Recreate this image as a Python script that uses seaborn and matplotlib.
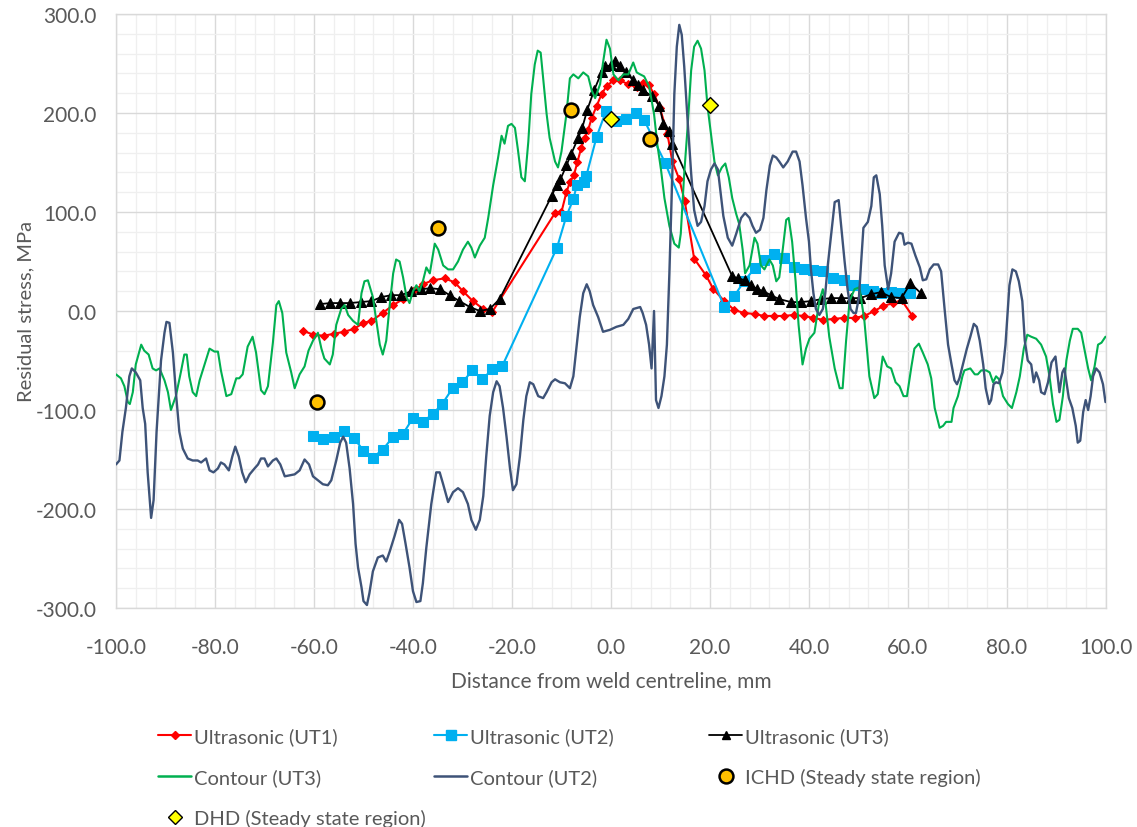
import matplotlib
matplotlib.use('Agg')
import matplotlib.pyplot as plt
from matplotlib.ticker import MultipleLocator, FormatStrFormatter
from matplotlib.lines import Line2D
import seaborn as sns

# ---- Ultrasonic measurements ----
ut1_x = [-62.2, -60.1, -58.0, -56.0, -53.9, -51.9, -50.0, -48.4, -46.1, -44.0,
         -42.0, -40.0, -38.0, -36.0, -33.6, -31.6, -29.9, -27.9, -25.8, -24.0,
         -11.3, -10.0, -9.0, -8.3, -7.5, -6.8, -6.0, -5.3, -4.6, -3.9,
         -2.9, -1.9, -0.9, 0.5, 1.8, 3.5, 5.2, 6.4, 7.7, 8.7,
         9.9, 11.4, 12.4, 13.8, 14.9, 16.8, 19.2, 20.7, 22.9, 24.9,
         26.9, 29.0, 30.9, 32.9, 34.9, 36.9, 38.9, 40.9, 42.9, 45.0,
         47.0, 49.2, 51.2, 53.2, 55.0, 57.0, 58.7, 60.9]
ut1_y = [-20, -24, -25, -23, -21, -18, -12, -10, -2, 6,
         12, 20, 27, 31, 33, 29, 20, 10, 2, -1,
         99, 100, 120, 130, 137, 150, 165, 175, 183, 195,
         207, 219, 227, 233, 233, 229, 226, 230, 228, 219,
         205, 179, 151, 133, 111, 53, 36, 22, 10, 1,
         -2, -3, -5, -5, -5, -4, -5, -7, -9, -8,
         -7, -7, -5, 0, 5, 8, 11, -5]

ut2_x = [-60.1, -58.1, -56.0, -54.0, -52.0, -50.0, -48.1, -46.1, -44.0, -42.0,
         -40.0, -38.0, -36.0, -34.1, -32.0, -30.0, -28.0, -26.0, -24.0, -22.0,
         -10.9, -9.0, -7.6, -6.9, -5.5, -5.0, -2.9, -1.0, 1.0, 3.0,
         5.0, 6.7, 11.0, 22.9, 24.9, 26.9, 29.0, 31.0, 33.0, 34.9,
         36.9, 38.9, 40.9, 42.8, 44.8, 47.0, 48.9, 50.9, 52.9, 54.6,
         56.5, 58.5, 60.5]
ut2_y = [-126, -129, -127, -121, -128, -141, -148, -140, -127, -124,
         -108, -112, -104, -94, -78, -72, -60, -69, -59, -56,
         64, 96, 113, 127, 130, 136, 176, 202, 192, 194,
         200, 193, 149, 4, 15, 30, 43, 52, 58, 54,
         44, 42, 41, 40, 33, 31, 26, 22, 20, 18,
         19, 18, 18]

ut3_x = [-58.7, -56.7, -54.7, -52.7, -50.6, -48.4, -46.4, -44.4, -42.4, -40.3,
         -38.3, -36.5, -34.5, -32.6, -30.6, -28.5, -26.5, -24.5, -22.5, -12.0,
         -11.0, -10.2, -9.0, -8.0, -6.6, -5.8, -4.8, -3.4, -1.9, -1.2,
         0.0, 0.8, 1.8, 3.0, 4.5, 5.5, 6.4, 8.3, 9.8, 10.6,
         11.8, 12.4, 24.5, 25.6, 27.1, 28.3, 29.6, 30.8, 32.3, 34.0,
         36.4, 38.4, 40.4, 42.5, 44.5, 46.5, 48.5, 50.4, 52.6, 54.5,
         56.6, 58.7, 60.5, 62.6]
ut3_y = [7, 8, 8, 8, 9, 10, 14, 16, 16, 20,
         22, 23, 22, 16, 10, 4, 0, 2, 12, 116,
         127, 133, 147, 159, 175, 185, 203, 223, 241, 247,
         248, 253, 247, 241, 233, 228, 223, 217, 207, 189,
         182, 169, 35, 33, 31, 26, 22, 20, 16, 12,
         9, 9, 10, 12, 13, 13, 13, 13, 17, 19,
         14, 13, 28, 18]

# ---- Contour method (UT3) ----
con3_x = [-100.0, -99.0, -98.3, -97.6, -97.2, -96.6, -96.0, -94.9, -94.3, -93.4,
          -92.6, -91.9, -91.2, -90.2, -89.5, -88.9, -87.9, -86.9, -86.2, -85.7,
          -85.2, -84.5, -83.8, -83.1, -82.1, -81.1, -80.1, -79.4, -78.8, -77.7,
          -76.7, -75.7, -75.1, -74.4, -73.4, -72.4, -71.7, -70.7, -70.0, -69.3,
          -68.3, -67.6, -67.1, -66.4, -65.6, -64.6, -63.9, -62.9, -61.9, -61.1,
          -60.2, -59.2, -58.5, -57.9, -56.8, -56.2, -55.5, -54.5, -53.8, -53.1,
          -52.1, -51.1, -50.4, -49.8, -49.1,
          -48.8, -48.1, -47.4, -46.7, -46.1, -45.4, -44.7, -44.0, -43.4, -42.7,
          -42.0, -41.3, -40.7, -40.0, -39.3, -38.7, -38.0, -37.3, -36.6, -35.6,
          -34.9, -33.9, -32.9, -31.9, -30.9, -29.9, -28.9, -28.2, -27.5, -26.5,
          -25.5, -24.8, -23.8, -22.8, -22.1, -21.5, -20.8, -20.1, -19.4, -18.8,
          -18.1, -17.4, -16.7, -16.1, -15.4, -14.8, -14.2, -13.7, -13.0, -12.4,
          -11.3, -10.7, -10.0, -9.0, -8.3, -7.6, -6.6, -5.6, -4.6, -3.9,
          -3.2, -2.2, -1.6, -0.9, -0.2, 0.5, 1.5, 2.5, 3.5, 4.5,
          5.2, 5.9,
          6.7, 7.7, 8.7, 9.4, 10.1, 10.8, 11.8, 12.8, 13.7, 14.1,
          14.8, 15.5, 16.2, 16.8, 17.5, 18.2, 18.9, 19.5, 20.2, 20.9,
          21.6, 22.4, 23.1, 23.8, 24.5, 25.3, 25.9, 26.6, 27.1, 28.0,
          29.0, 29.6, 30.3, 31.0, 32.0, 32.7, 33.4, 34.0, 34.7, 35.4,
          35.9, 36.6, 37.3, 37.9, 38.7, 39.4, 40.1, 41.1, 42.1, 42.8,
          43.3, 44.1, 45.2, 46.2, 46.8, 47.5, 48.2, 49.2, 50.2, 51.2,
          52.2, 53.2, 53.9, 54.9,
          55.8, 56.6, 57.5, 58.3, 59.1, 59.8, 60.7, 61.3, 62.2, 63.0,
          64.0, 64.7, 65.4, 66.4, 67.1, 67.7, 68.8, 69.2, 70.1, 71.0,
          71.4, 72.6, 73.5, 74.1, 74.8, 75.8, 76.5, 77.2, 77.8, 78.4,
          79.2, 80.2, 81.0, 81.9, 82.6, 83.4, 84.1, 84.9, 85.9, 86.9,
          87.9, 88.6, 89.3, 90.0, 90.6, 91.3, 92.0, 92.7, 93.3, 94.3,
          95.0, 95.7, 96.4, 97.0, 97.7, 98.4, 99.1, 99.9]
con3_y = [-64, -68, -76, -92, -94, -82, -54, -34, -40, -44,
          -58, -60, -58, -70, -82, -100, -86, -62, -44, -44,
          -66, -82, -86, -70, -54, -38, -41, -41, -60, -86,
          -84, -68, -68, -64, -36, -26, -42, -80, -84, -76,
          -32, 6, 10, -2, -42, -62, -78, -64, -56, -40,
          -30, -22, -38, -48, -54, -44, -14, 2, 6, -4,
          -10, -14, 18, 30, 31,
          26, 14, -10, -34, -44, -30, 6, 38, 52, 50,
          34, 14, 8, 20, 26, 20, 30, 44, 38, 68,
          62, 46, 42, 42, 50, 62, 70, 64, 54, 66,
          74, 94, 127, 155, 177, 169, 187, 189, 185, 163,
          135, 131, 171, 219, 249, 263, 261, 235, 199, 175,
          151, 145, 161, 199, 235, 239, 235, 241, 237, 223,
          215, 229, 251, 274, 265, 239, 233, 239, 239, 251,
          241, 239,
          237, 227, 199, 167, 143, 114, 86, 68, 64, 78,
          139, 187, 243, 267, 273, 265, 243, 207, 179, 151,
          137, 145, 149, 135, 114, 98, 88, 62, 38, 46,
          74, 68, 46, 42, 52, 46, 30, 34, 62, 92,
          94, 70, 30, -14, -54, -38, -28, -22, 10, 22,
          10, -26, -58, -78, -78, -30, 10, 22, 24, -10,
          -66, -88, -84, -46,
          -56, -58, -72, -76, -86, -86, -56, -38, -33, -42,
          -54, -68, -98, -118, -116, -112, -112, -98, -86, -66,
          -60, -58, -64, -64, -60, -60, -62, -72, -66, -69,
          -86, -94, -98, -82, -66, -38, -24, -26, -28, -34,
          -46, -66, -94, -112, -110, -86, -50, -30, -18, -18,
          -22, -40, -58, -70, -56, -34, -32, -26]

# ---- Contour method (UT2) ----
con2_x = [-100.0, -99.3, -98.7, -98.0, -97.3, -96.8, -96.0, -95.1, -94.6, -94.1,
          -93.6, -92.9, -92.4, -91.8, -90.9, -90.2, -89.8, -89.2, -88.5, -87.9,
          -87.2, -86.5, -85.5, -84.5, -83.5, -82.8, -81.8, -81.1, -80.3, -79.4,
          -78.8, -78.1, -77.2, -76.5, -75.9, -75.2, -74.5, -73.8, -73.0, -72.0,
          -71.3, -70.7, -70.0, -69.3, -68.3, -67.6, -66.8, -65.9, -64.9, -63.9,
          -62.9, -61.9, -61.0, -60.2, -59.2, -58.2, -57.2, -56.5, -55.5, -54.7,
          -54.1, -53.5, -52.8, -52.1, -51.6, -51.1, -50.4, -50.0, -49.3,
          -48.8, -48.1, -47.1, -46.1, -45.4, -44.7, -43.7, -42.8, -42.2, -41.5,
          -40.7, -40.0, -39.3, -38.5, -38.0, -37.3, -36.3, -35.3, -34.6, -33.9,
          -32.9, -31.9, -30.9, -29.9, -28.9, -28.2, -27.3, -26.5, -25.8, -25.2,
          -24.5, -23.8, -23.1, -22.5, -21.8, -21.1, -20.4, -19.8, -19.1, -18.4,
          -17.7, -17.1, -16.4, -15.7, -14.7, -13.7, -13.0, -12.0, -11.3, -10.3,
          -9.3, -8.3, -7.6, -7.0, -6.3, -5.6, -4.9, -4.3, -3.6, -2.6,
          -1.6, -0.2, 1.1, 2.5, 3.5, 4.5, 5.9,
          6.4, 7.1, 7.7, 8.2, 8.7, 9.1, 9.6, 10.2, 10.8, 11.3,
          11.8, 12.4, 12.8, 13.3, 13.8, 14.3, 14.8, 15.5, 16.2, 16.8,
          17.5, 18.2, 18.9, 19.5, 20.2, 20.9, 21.6, 22.1, 22.7, 23.6,
          24.5, 25.3, 26.3, 27.1, 28.0, 28.6, 29.3, 30.1, 30.8, 31.4,
          32.1, 32.7, 33.4, 34.0, 34.8, 35.7, 36.7, 37.4, 38.1, 38.7,
          39.4, 40.0, 40.4, 40.9, 41.4, 42.1, 42.8, 43.3, 43.8, 44.5,
          45.2, 46.0, 46.5, 47.2, 47.8, 48.4, 49.0, 49.5, 50.1, 50.5,
          51.0, 51.9, 52.6, 53.1, 53.6,
          54.3, 54.8, 55.3, 56.0, 56.6, 57.3, 58.2, 58.9, 59.3, 60.0,
          60.7, 61.5, 62.4, 63.0, 63.7, 64.4, 65.2, 66.1, 66.7, 67.4,
          68.1, 68.8, 69.4, 69.9, 70.4, 71.1, 71.9, 72.6, 73.3, 73.9,
          74.5, 75.2, 75.7, 76.4, 76.8, 77.3, 77.8, 78.4, 79.1, 79.7,
          80.5, 81.1, 81.8, 82.4, 83.1, 83.6, 84.2, 84.9, 85.4, 85.9,
          86.5, 86.9, 87.6, 88.3, 89.0, 89.8, 90.6, 91.2, 91.6, 92.5,
          93.2, 93.9, 94.3, 94.8, 95.4, 95.9, 96.4, 96.9, 97.4, 98.0,
          98.7, 99.4, 99.9]
con2_y = [-155, -151, -122, -98, -66, -58, -62, -70, -98, -114,
          -163, -209, -191, -122, -50, -22, -11, -12, -42, -82,
          -122, -139, -149, -151, -151, -153, -149, -161, -163, -159,
          -153, -155, -161, -147, -137, -147, -163, -173, -165, -159,
          -155, -149, -149, -157, -151, -149, -155, -167, -166, -165,
          -161, -150, -155, -167, -171, -175, -176, -171, -151, -133,
          -127, -133, -159, -195, -235, -259, -279, -293, -297,
          -285, -263, -249, -247, -253, -243, -227, -211, -215, -235,
          -259, -283, -294, -293, -275, -239, -195, -163, -163, -175,
          -193, -183, -179, -183, -195, -211, -221, -211, -187, -147,
          -106, -82, -71, -76, -98, -127, -159, -181, -175, -147,
          -110, -86, -72, -74, -86, -88, -82, -72, -69, -72,
          -73, -78, -66, -38, -6, 18, 27, 20, 6, -6,
          -21, -19, -16, -14, -8, 2, 4,
          -2, -14, -34, -58, 0, -90, -98, -86, -66, -34,
          38, 139, 219, 267, 289, 279, 247, 191, 139, 102,
          86, 90, 106, 131, 143, 149, 143, 122, 96, 74,
          66, 78, 94, 99, 94, 86, 79, 82, 94, 122,
          147, 157, 155, 151, 145, 151, 161, 161, 151, 127,
          94, 70, 42, 18, 2, -4, 2, 18, 46, 78,
          110, 112, 86, 50, 22, 2, -2, -2, 14, 46,
          84, 90, 106, 135, 137,
          118, 86, 46, 22, 38, 70, 79, 78, 67, 69,
          68, 56, 44, 31, 32, 42, 47, 47, 40, 2,
          -34, -54, -70, -74, -68, -54, -38, -26, -13, -16,
          -30, -54, -78, -94, -90, -74, -72, -73, -62, -34,
          26, 42, 40, 30, 10, -30, -50, -54, -72, -62,
          -70, -82, -84, -72, -52, -46, -82, -62, -58, -88,
          -98, -116, -133, -131, -102, -90, -100, -86, -66, -58,
          -62, -74, -92]

# ---- Hole drilling points ----
ichd_x = [-59.4, -34.9, -8.1, 7.9]
ichd_y = [-92, 84, 203, 174]
dhd_x = [0.1, 20.0]
dhd_y = [194, 208]

labels = ['Ultrasonic (UT1)', 'Ultrasonic (UT2)', 'Ultrasonic (UT3)',
          'Contour (UT3)', 'Contour (UT2)', 'ICHD (Steady state region)',
          'DHD (Steady state region)']

c_ut1 = '#FF0000'
c_ut2 = '#00B0F0'
c_ut3 = '#000000'
c_con3 = '#00B050'
c_con2 = '#3E5378'
c_ichd = '#FFC000'
c_dhd = '#FFFF00'
txt = '#595959'

sns.set_theme(style='white')
plt.rcParams['font.family'] = ['Lato', 'DejaVu Sans']
plt.rcParams['axes.unicode_minus'] = False

fig = plt.figure(figsize=(11.37, 8.28), dpi=100)
ax = fig.add_axes([0.102, 0.2645, 0.8707, 0.7174])

sns.lineplot(x=ut1_x, y=ut1_y, ax=ax, color=c_ut1, lw=1.5, marker='D', markersize=4.5,
             markeredgecolor=c_ut1, estimator=None, sort=False, zorder=3)
sns.lineplot(x=ut2_x, y=ut2_y, ax=ax, color=c_ut2, lw=1.5, marker='s', markersize=7.5,
             markeredgecolor=c_ut2, estimator=None, sort=False, zorder=3)
sns.lineplot(x=ut3_x, y=ut3_y, ax=ax, color=c_ut3, lw=1.3, marker='^', markersize=7,
             markeredgecolor=c_ut3, estimator=None, sort=False, zorder=3)
sns.lineplot(x=con3_x, y=con3_y, ax=ax, color=c_con3, lw=1.5, estimator=None, sort=False, zorder=4)
sns.lineplot(x=con2_x, y=con2_y, ax=ax, color=c_con2, lw=1.7, estimator=None, sort=False, zorder=4)
sns.scatterplot(x=ichd_x, y=ichd_y, ax=ax, color=c_ichd, s=100, marker='o',
                edgecolor='black', linewidth=1.8, zorder=5)
sns.scatterplot(x=dhd_x, y=dhd_y, ax=ax, color=c_dhd, s=65, marker='D',
                edgecolor='black', linewidth=1.0, zorder=5)

ax.set_xlim(-100, 100)
ax.set_ylim(-300, 300)
ax.xaxis.set_major_locator(MultipleLocator(20))
ax.xaxis.set_minor_locator(MultipleLocator(4))
ax.yaxis.set_major_locator(MultipleLocator(100))
ax.yaxis.set_minor_locator(MultipleLocator(20))
ax.xaxis.set_major_formatter(FormatStrFormatter('%.1f'))
ax.yaxis.set_major_formatter(FormatStrFormatter('%.1f'))
ax.grid(which='major', color='#D9D9D9', lw=1.0)
ax.grid(which='minor', color='#EFEFEF', lw=0.9)
ax.set_axisbelow(True)
for s in ax.spines.values():
    s.set_color('#D9D9D9')
    s.set_linewidth(1.0)
ax.tick_params(which='both', length=0, labelcolor=txt, labelsize=15)
ax.tick_params(axis='x', pad=21)
ax.tick_params(axis='y', pad=14)
ax.set_xlabel('Distance from weld centreline, mm', fontsize=15, color=txt, labelpad=9)
ax.set_ylabel('Residual stress, MPa', fontsize=14.5, color=txt, labelpad=1)

h = [Line2D([], [], color=c_ut1, lw=1.5, marker='D', markersize=4),
     Line2D([], [], color=c_ut2, lw=1.5, marker='s', markersize=7),
     Line2D([], [], color=c_ut3, lw=1.3, marker='^', markersize=6),
     Line2D([], [], color=c_con3, lw=1.8),
     Line2D([], [], color=c_con2, lw=1.8),
     Line2D([], [], ls='none', marker='o', markersize=10, markerfacecolor=c_ichd,
            markeredgecolor='black', markeredgewidth=1.8),
     Line2D([], [], ls='none', marker='D', markersize=7.5, markerfacecolor=c_dhd,
            markeredgecolor='black', markeredgewidth=1.0)]

# three legend columns placed like the original (row-major order)
cols = [([0, 3, 6], 158), ([1, 4], 434), ([2, 5], 709)]
for idx, xpx in cols:
    lg = fig.legend([h[i] for i in idx], [labels[i] for i in idx], loc='upper left',
                    bbox_to_anchor=(xpx / 1137, 1 - 728 / 828), frameon=False,
                    fontsize=14.5, handlelength=1.65, handletextpad=0.12,
                    labelspacing=1.15, borderpad=0, borderaxespad=0)
    for t in lg.get_texts():
        t.set_color(txt)

fig.savefig('out.png', dpi=100)
